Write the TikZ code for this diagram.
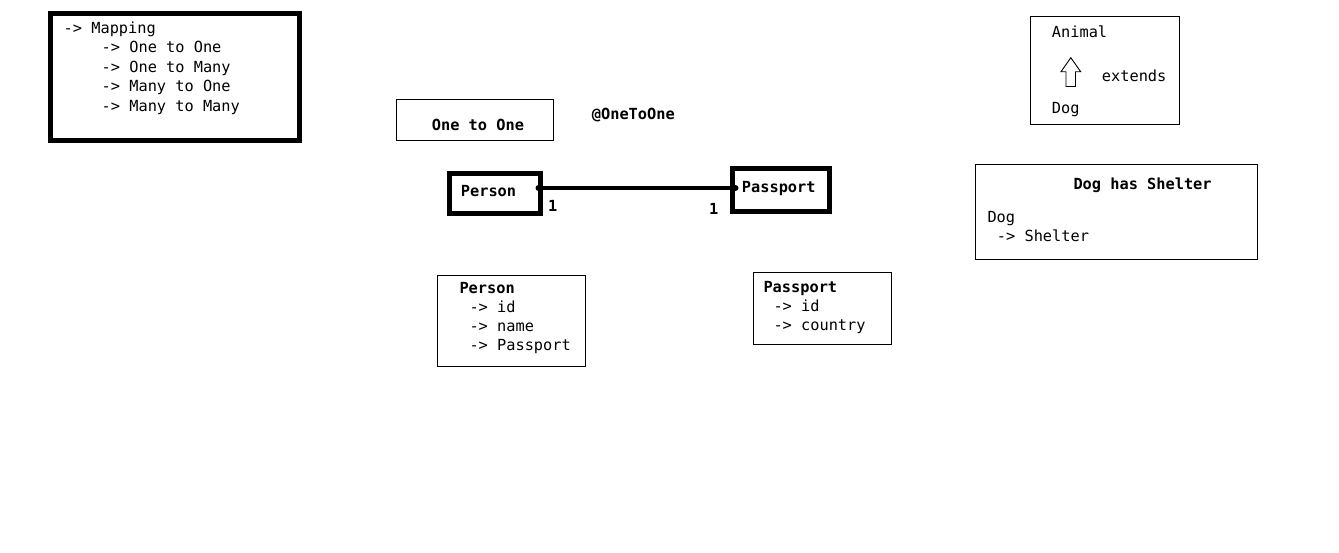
\documentclass[tikz,border=0pt]{standalone}
\usepackage{fontspec}
\setmainfont{DejaVu Sans Mono}
\begin{document}
\begin{tikzpicture}[x=1pt,y=-1pt,
  txt/.style={anchor=base west,inner sep=0pt,font=\fontsize{15.3}{18}\selectfont},
  btxt/.style={txt,font=\fontsize{15.3}{18}\selectfont\bfseries},
  thinbox/.style={draw=black,line width=1pt},
  thickbox/.style={draw=black,line width=5pt},
  link/.style={draw=black,line width=4.5pt}]
\useasboundingbox (0,0) rectangle (1339,552);
\fill[white] (0,0) rectangle (1339,552);
% Mapping box
\draw[thickbox] (50.5,13.5) rectangle (299.5,140.5);
\node[txt] (m0) at (63.5,33) {-> Mapping};
\node[txt] (m1) at (101.5,52.5) {-> One to One};
\node[txt] (m2) at (101.5,72) {-> One to Many};
\node[txt] (m3) at (101.5,91.5) {-> Many to One};
\node[txt] (m4) at (101.5,111) {-> Many to Many};
% One to One
\draw[thinbox] (396.5,99.5) rectangle (553,140.5);
\node[btxt] (oto) at (431.7,130.7) {One to One};
\node[btxt] (ann) at (591.7,119.3) {@OneToOne};
% Person / Passport
\node[thickbox,minimum width=91pt,minimum height=39.5pt,inner sep=0pt] (person) at (494.5,193.5) {};
\node[btxt] at (460.7,196.7) {Person};
\node[thickbox,minimum width=97pt,minimum height=43pt,inner sep=0pt] (passport) at (780.5,189.5) {};
\node[btxt] at (741.7,192.7) {Passport};
\coordinate (pa) at (538.5,188);
\coordinate (pb) at (735.5,188);
\draw[link] (pa) -- (pb);
\fill (pa) circle (3pt);
\fill (pb) circle (3pt);
\node[btxt] (c1) at (548,211.7) {1};
\node[btxt] (c2) at (709,214) {1};
% Animal box
\draw[thinbox] (1030.5,16.5) rectangle (1179.5,124);
\node[txt] (animal) at (1051.7,37.5) {Animal};
\node[txt] (ext) at (1101.7,81.7) {extends};
\node[txt] (dog) at (1051.7,113.3) {Dog};
\draw[line width=0.9pt,line join=miter]
  (1070.8,57.7) -- (1080.7,71.7) -- (1075.5,71.7) -- (1075.5,86.5)
  -- (1066,86.5) -- (1066,71.7) -- (1061,71.7) -- cycle;
% Dog has Shelter
\draw[thinbox] (975.8,164.8) rectangle (1257,259);
\node[btxt] (dhs) at (1073.3,189) {Dog has Shelter};
\node[txt] (d1) at (987.3,222.7) {Dog};
\node[txt] (d2) at (996.7,241) {-> Shelter};
% Person details
\draw[thinbox] (437.8,275.5) rectangle (585,366);
\node[btxt] (p0) at (459.3,293.3) {Person};
\node[txt] (p1) at (469.3,312.7) {-> id};
\node[txt] (p2) at (469.3,331.7) {-> name};
\node[txt] (p3) at (469.3,350.7) {-> Passport};
% Passport details
\draw[thinbox] (753.8,272.3) rectangle (891.3,344);
\node[btxt] (q0) at (763.3,292.3) {Passport};
\node[txt] (q1) at (773.3,311.7) {-> id};
\node[txt] (q2) at (773.3,330.7) {-> country};
\end{tikzpicture}
\end{document}
